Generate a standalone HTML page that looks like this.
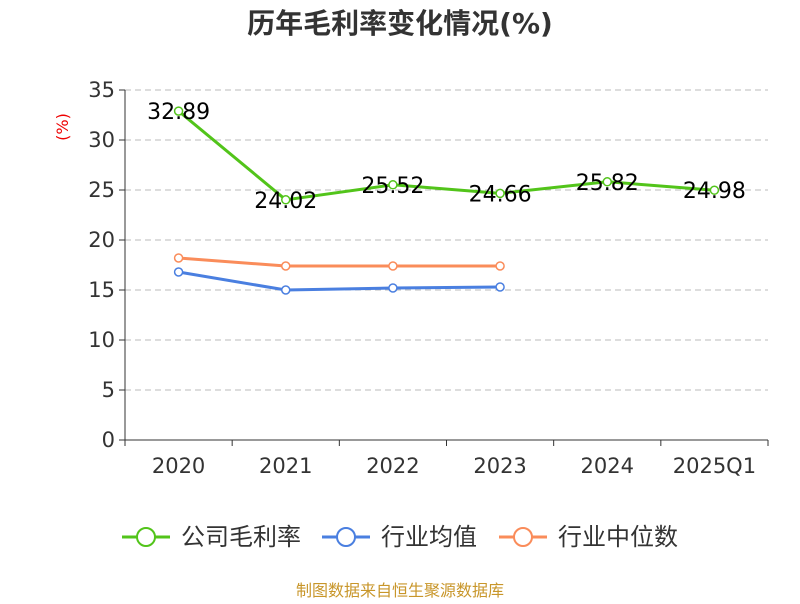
<!DOCTYPE html>
<html><head><meta charset="utf-8"><style>
body{margin:0;background:#fff;font-family:"DejaVu Sans","Noto Sans CJK SC",sans-serif}
</style></head><body>
<svg width="800" height="600" xmlns="http://www.w3.org/2000/svg" style="font-family:'DejaVu Sans','Noto Sans CJK SC',sans-serif">
<text x="400" y="33" text-anchor="middle" font-size="28" font-weight="bold" fill="#333">历年毛利率变化情况(%)</text>
<text x="68" y="127" transform="rotate(-90 68 127)" text-anchor="middle" font-size="16" fill="#e00">(%)</text>
<g id="grid"></g><g id="axes"></g><g id="series"></g>
<g>
<g><line x1="122" y1="537" x2="170" y2="537" stroke="#52c41a" stroke-width="3"/><circle cx="146" cy="537" r="9" fill="#fff" stroke="#52c41a" stroke-width="2"/><text x="181" y="545" font-size="24" fill="#333">公司毛利率</text></g>
<g><line x1="322" y1="537" x2="370" y2="537" stroke="#4a7fe0" stroke-width="3"/><circle cx="346" cy="537" r="9" fill="#fff" stroke="#4a7fe0" stroke-width="2"/><text x="381" y="545" font-size="24" fill="#333">行业均值</text></g>
<g><line x1="499" y1="537" x2="547" y2="537" stroke="#fa8c5a" stroke-width="3"/><circle cx="523" cy="537" r="9" fill="#fff" stroke="#fa8c5a" stroke-width="2"/><text x="558" y="545" font-size="24" fill="#333">行业中位数</text></g>
</g>
<text x="400" y="596" text-anchor="middle" font-size="16" fill="#c8962a">制图数据来自恒生聚源数据库</text>
</svg>
<script>
const categories=["2020","2021","2022","2023","2024","2025Q1"];
const company=[32.89,24.02,25.52,24.66,25.82,24.98];
const industryAvg=[16.8,15.0,15.2,15.3];
const industryMedian=[18.2,17.4,17.4,17.4];
const yTicks=[0,5,10,15,20,25,30,35];
const NS="http://www.w3.org/2000/svg";
const L=125,R=768,T=90,B=440,yMax=35;
const bw=(R-L)/categories.length;
const x=i=>L+bw*(i+0.5);
const y=v=>B-(v/yMax)*(B-T);
function mk(tag,attrs,parent){const e=document.createElementNS(NS,tag);for(const k in attrs)e.setAttribute(k,attrs[k]);parent.appendChild(e);return e;}
const grid=document.getElementById('grid'),axes=document.getElementById('axes'),ser=document.getElementById('series');
yTicks.forEach(t=>{
 if(t>0){const g=mk('line',{x1:L,x2:R,y1:y(t),y2:y(t),stroke:'#bbb','stroke-dasharray':'6,4'},grid);
 
 }
 const tk=mk('line',{x1:L-6,x2:L,y1:y(t),y2:y(t),stroke:'#333'},axes);
 
 
 const lb=mk('text',{x:L-10,y:y(t)+7,'text-anchor':'end','font-size':21,fill:'#333'},axes);lb.textContent=t;
 
 
});
const ya=mk('line',{x1:L,x2:L,y1:T,y2:B,stroke:'#333'},axes);


const xa=mk('line',{x1:L,x2:R,y1:B,y2:B,stroke:'#333'},axes);


for(let i=0;i<=categories.length;i++){const t=mk('line',{x1:L+bw*i,x2:L+bw*i,y1:B,y2:B+6,stroke:'#333'},axes);
 
 }
categories.forEach((c,i)=>{const t=mk('text',{x:x(i),y:B+33,'text-anchor':'middle','font-size':21,fill:'#333'},axes);t.textContent=c;
 
 });
function series(vals,color,name,labels){
 const p=mk('polyline',{points:vals.map((v,i)=>x(i)+','+y(v)).join(' '),fill:'none',stroke:color,'stroke-width':3},ser);
 
 
 vals.forEach((v,i)=>{const c=mk('circle',{cx:x(i),cy:y(v),r:4,fill:'#fff',stroke:color,'stroke-width':1.5},ser);
  
  
  if(labels){const t=mk('text',{x:x(i),y:y(v)+8,'text-anchor':'middle','font-size':22,fill:'#000'},ser);t.textContent=v.toFixed(2);
  
  }
 });
}
series(industryMedian,'#fa8c5a','industry-median',false);
series(industryAvg,'#4a7fe0','industry-avg',false);
series(company,'#52c41a','company',true);
</script>
</body></html>
